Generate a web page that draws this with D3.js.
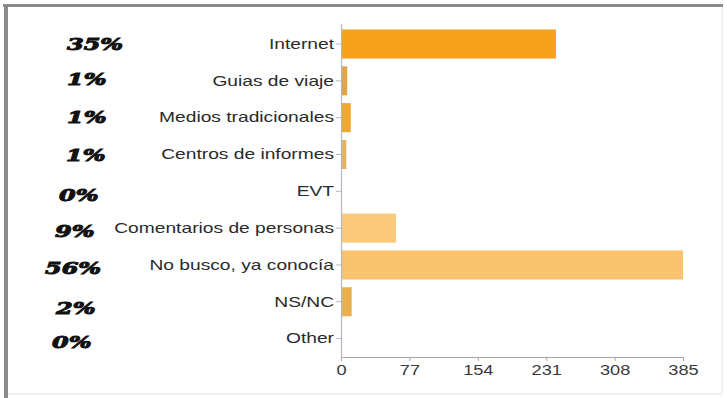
<!DOCTYPE html>
<html>
<head>
<meta charset="utf-8">
<script src="https://cdn.jsdelivr.net/npm/d3@7/dist/d3.min.js"></script>
<style>
  html, body { margin: 0; padding: 0; background: #fff; }
  svg { display: block; }
</style>
</head>
<body>
<svg id="chart" width="727" height="398"></svg>
<script>
// Survey answers: where people looked for information
const categories = [
  "Internet", "Guias de viaje", "Medios tradicionales", "Centros de informes",
  "EVT", "Comentarios de personas", "No busco, ya conocia", "NS/NC", "Other"
];
const displayNames = [
  "Internet", "Guias de viaje", "Medios tradicionales", "Centros de informes",
  "EVT", "Comentarios de personas", "No busco, ya conocía", "NS/NC", "Other"
];
const counts = [242, 7, 11, 6, 0, 62, 385, 12, 0];
const percentLabels = ["35%", "1%", "1%", "1%", "0%", "9%", "56%", "2%", "0%"];
const barColors = ["#f7a11c", "#e3a444", "#f1a733", "#e6b262", "#f0b050",
                   "#fcc97b", "#fac36d", "#ebaf4f", "#f0b050"];
const xTicks = [0, 77, 154, 231, 308, 385];

const svg = d3.select("#chart");

// frame
svg.append("rect").attr("x", 6).attr("y", 6).attr("width", 716).attr("height", 388)
  .attr("fill", "#fff").attr("stroke", "#e2e2e2").attr("stroke-width", 1);
svg.append("line").attr("x1", 3).attr("x2", 723).attr("y1", 5.5).attr("y2", 5.5)
  .attr("stroke", "#8a8a8a").attr("stroke-width", 3);
svg.append("line").attr("x1", 6).attr("x2", 6).attr("y1", 4).attr("y2", 398)
  .attr("stroke", "#8a8a8a").attr("stroke-width", 4);

const x = d3.scaleLinear().domain([0, 385]).range([341, 683]);
const y = d3.scaleBand().domain(categories).range([25.6, 357]).paddingInner(0.21).paddingOuter(0.105);

// bars
svg.append("g").selectAll("rect")
  .data(categories)
  .join("rect")
  .attr("x", x(0))
  .attr("y", d => y(d))
  .attr("width", (d, i) => x(counts[i]) - x(0))
  .attr("height", y.bandwidth())
  .attr("fill", (d, i) => barColors[i]);

// category axis
const yAxis = svg.append("g")
  .attr("transform", `translate(${x(0)},0)`)
  .call(d3.axisLeft(y).tickSize(5).tickPadding(2).tickSizeOuter(0)
    .tickFormat((d, i) => displayNames[i]));
yAxis.select(".domain").attr("stroke", "#b4bac2").attr("stroke-width", 1.2)
  .attr("d", `M0.5,${24}V${357}`);
yAxis.selectAll(".tick line").attr("stroke", "#b4bac2");
yAxis.selectAll(".tick text")
  .attr("font-family", "Liberation Sans, Arial, sans-serif")
  .attr("font-size", 15)
  .attr("fill", "#2a2a2a")
  .attr("x", 0)
  .attr("transform", "translate(-7,0) scale(1.28,1)");

// value axis
const xAxis = svg.append("g")
  .attr("transform", "translate(0,357)")
  .call(d3.axisBottom(x).tickValues(xTicks).tickSize(4).tickPadding(4).tickSizeOuter(0));
xAxis.select(".domain").attr("stroke", "#a8a8a8").attr("stroke-width", 1.2);
xAxis.selectAll(".tick line").attr("stroke", "#a8a8a8");
xAxis.selectAll(".tick text")
  .attr("font-family", "Liberation Sans, Arial, sans-serif")
  .attr("font-size", 14)
  .attr("fill", "#3a3a3a")
  .attr("transform", "scale(1.3,1)");

// percentage notes on the left
const pctX = [67, 67, 67, 66, 59, 55, 45, 56, 52];
const pctY = [44, 79, 117, 155, 195, 231, 268, 308, 342];
svg.append("g").selectAll("text")
  .data(percentLabels)
  .join("text")
  .attr("transform", (d, i) => `translate(${pctX[i]},${pctY[i]}) scale(1.5,1)`)
  .attr("dy", "0.36em")
  .attr("font-family", "DejaVu Serif, serif")
  .attr("font-weight", "bold")
  .attr("font-style", "italic")
  .attr("font-size", 16)
  .attr("fill", "#111")
  .attr("stroke", "#111")
  .attr("stroke-width", 0.9)
  .text(d => d);
</script>
</body>
</html>
